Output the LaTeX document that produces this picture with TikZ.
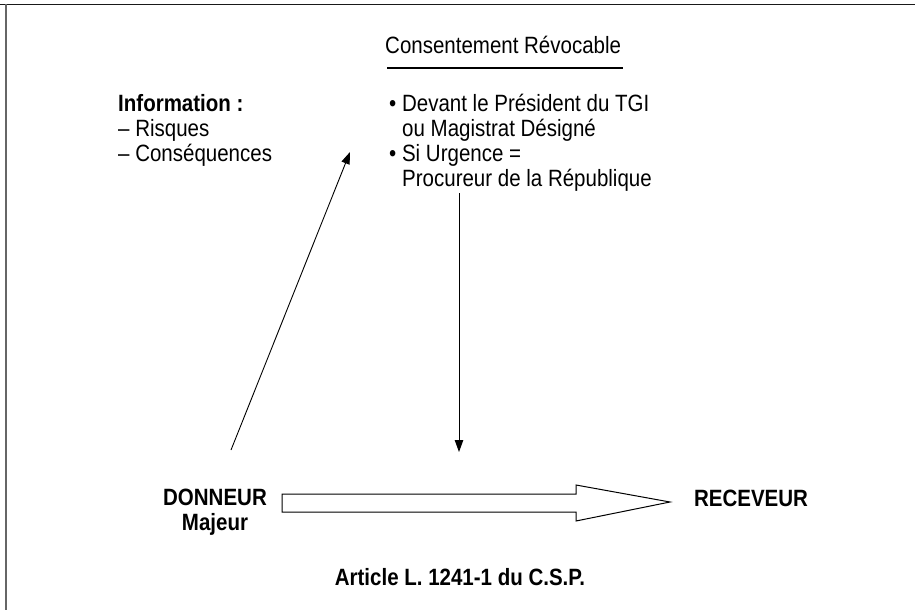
\documentclass[tikz,border=0pt]{standalone}
\usepackage{graphicx}
\usepackage{fontspec}
\setmainfont{Liberation Sans}
\usetikzlibrary{arrows.meta}
% slightly tall lettering
\newcommand\tallt[1]{\scalebox{1}[1.15]{#1}}
\begin{document}
\begin{tikzpicture}[x=1pt,y=-1pt,
  txt/.style={anchor=base west,inner sep=0pt,font=\fontsize{20.5}{25}\selectfont},
  btxt/.style={anchor=base,inner sep=0pt,font=\fontsize{20.5}{25}\selectfont\bfseries},
  link/.style={line width=0.9pt,-{Triangle[length=12pt,width=8.5pt]}}]
\useasboundingbox (0,0) rectangle (915,610);
% frame edges
\draw[line width=1.6pt,black!90] (0,4.5) -- (915,4.5);
\draw[line width=1.3pt,black!60] (6,4) -- (6,610);

% consent heading
\node[txt] (cons) at (385,54) {\tallt{Consentement Révocable}};
\draw[line width=1pt] (387,68) -- (623,68);

% authorities
\node[txt] (b1) at (389,111) {\tallt{• Devant le Président du TGI}};
\node[txt] (b2) at (402,136) {\tallt{ou Magistrat Désigné}};
\node[txt] (b3) at (389,161) {\tallt{• Si Urgence =}};
\node[txt] (b4) at (402,186) {\tallt{Procureur de la République}};

% information
\node[txt,font=\fontsize{20.5}{25}\selectfont\bfseries] (info) at (118,111) {\tallt{Information :}};
\node[txt] (i1) at (118,136) {\tallt{– Risques}};
\node[txt] (i2) at (118,161) {\tallt{– Conséquences}};

% parties
\node[btxt] (don) at (215,505) {\tallt{DONNEUR}};
\node[btxt] (maj) at (215,530) {\tallt{Majeur}};
\node[btxt] (rec) at (751,506) {\tallt{RECEVEUR}};
\node[btxt] (art) at (460,585) {\tallt{Article L. 1241-1 du C.S.P.}};

% connectors
\coordinate (a1s) at (231,450);
\coordinate (a1e) at (350,152);
\draw[link] (a1s) -- (a1e);
\coordinate (a2s) at (459,193);
\coordinate (a2e) at (459,452);
\draw[link] (a2s) -- (a2e);

% hollow transfer arrow
\draw[line width=1pt,fill=white]
  (282,494) -- (576,494) -- (576,485) -- (670,502) -- (576,521)
  -- (576,512) -- (282,512) -- cycle;
\end{tikzpicture}
\end{document}
